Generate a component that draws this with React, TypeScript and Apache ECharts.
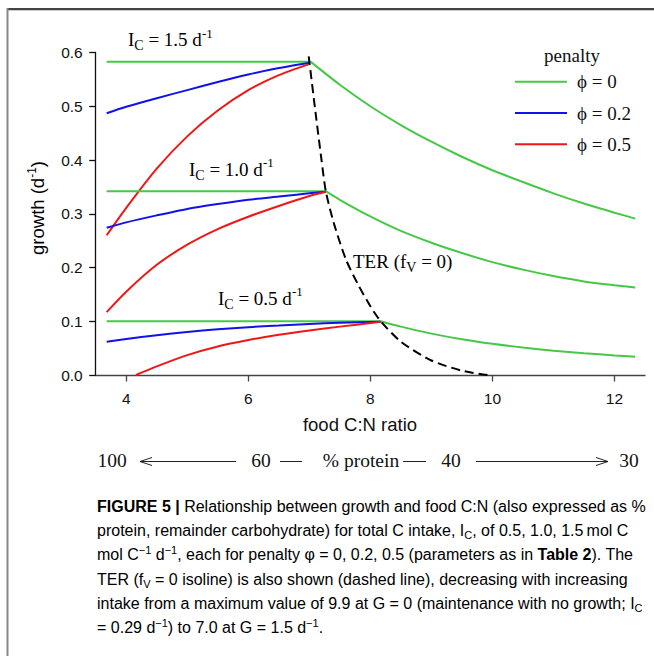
import React, { useEffect, useRef } from "react";
import * as echarts from "echarts";

// ---------- data ----------
const xTickValues = [4, 6, 8, 10, 12];
const yTickValues = [0.0, 0.1, 0.2, 0.3, 0.4, 0.5, 0.6];

const ic15Flat = [[3.68, 0.583], [7.02, 0.583]];
const ic15Decline = [[7.02, 0.583], [7.5, 0.54], [8.0, 0.5], [8.5, 0.465], [9.0, 0.434], [9.5, 0.406], [10.0, 0.381], [10.5, 0.359], [11.0, 0.338], [11.5, 0.319], [12.0, 0.302], [12.34, 0.291]];
const ic15Blue = [[3.68, 0.487], [4.0, 0.499], [4.5, 0.515], [5.0, 0.53], [5.5, 0.545], [6.0, 0.559], [6.5, 0.571], [7.0, 0.581]];
const ic15Red = [[3.68, 0.26], [4.0, 0.311], [4.5, 0.384], [5.0, 0.444], [5.5, 0.492], [6.0, 0.53], [6.5, 0.558], [6.99, 0.578]];

const ic10Flat = [[3.68, 0.342], [7.27, 0.342]];
const ic10Decline = [[7.27, 0.342], [7.5, 0.326], [8.0, 0.295], [8.5, 0.268], [9.0, 0.246], [9.5, 0.227], [10.0, 0.21], [10.5, 0.196], [11.0, 0.184], [11.5, 0.174], [12.0, 0.167], [12.34, 0.163]];
const ic10Blue = [[3.68, 0.274], [4.0, 0.284], [4.5, 0.297], [5.0, 0.309], [5.5, 0.318], [6.0, 0.326], [6.5, 0.332], [7.0, 0.338], [7.27, 0.341]];
const ic10Red = [[3.68, 0.117], [4.0, 0.155], [4.5, 0.205], [5.0, 0.2425], [5.5, 0.2715], [6.0, 0.2945], [6.5, 0.3145], [7.0, 0.333], [7.27, 0.341]];

const ic05Flat = [[3.68, 0.1], [8.17, 0.1]];
const ic05Decline = [[8.17, 0.1], [8.5, 0.09], [9.0, 0.077], [9.5, 0.0665], [10.0, 0.058], [10.5, 0.051], [11.0, 0.0452], [11.5, 0.0405], [12.0, 0.0365], [12.34, 0.034]];
const ic05Blue = [[3.68, 0.062], [4.0, 0.067], [4.5, 0.074], [5.0, 0.08], [5.5, 0.085], [6.0, 0.089], [6.5, 0.092], [7.0, 0.095], [7.5, 0.097], [8.17, 0.099]];
const ic05Red = [[4.16, 0.0], [4.5, 0.016], [5.0, 0.037], [5.5, 0.053], [6.0, 0.065], [6.5, 0.075], [7.0, 0.083], [7.5, 0.09], [8.17, 0.099]];

const terLine = [[6.99, 0.593], [7.1, 0.49], [7.2, 0.4], [7.27, 0.342], [7.4, 0.283], [7.6, 0.215], [7.8, 0.168], [8.0, 0.128], [8.17, 0.1], [8.5, 0.062], [9.0, 0.027], [9.5, 0.008], [9.92, 0.0]];

const legendTitle = "penalty";
const legendLabels = ["\u03D5 = 0", "\u03D5 = 0.2", "\u03D5 = 0.5"];
const proteinLabels = ["100", "60", "% protein", "40", "30"];

const GREEN = "#46c846";
const BLUE = "#1212e8";
const RED = "#f01616";

const SERIF = "Liberation Serif";
const SANS = "Liberation Sans";

const plotRich = {
  n: { fontFamily: SERIF, fontSize: 19, lineHeight: 26, verticalAlign: "middle", color: "#111" },
  sub: { fontFamily: SERIF, fontSize: 14, lineHeight: 16, verticalAlign: "bottom", color: "#111" },
  sup: { fontFamily: SERIF, fontSize: 13, lineHeight: 13, verticalAlign: "top", color: "#111" },
};

const capRich = {
  n: { fontFamily: SANS, fontSize: 16, lineHeight: 20, verticalAlign: "middle", color: "#333" },
  b: { fontFamily: SANS, fontSize: 16, fontWeight: "bold", lineHeight: 20, verticalAlign: "middle", color: "#333" },
  sup: { fontFamily: SANS, fontSize: 11, lineHeight: 10, verticalAlign: "top", color: "#333" },
  sub: { fontFamily: SANS, fontSize: 11, lineHeight: 14, verticalAlign: "bottom", color: "#333" },
};

const captionLines = [
  "{b|FIGURE 5 |}{n| Relationship between growth and food C:N (also expressed as %}",
  "{n|protein, remainder carbohydrate) for total C intake, I}{sub|C}{n|, of 0.5, 1.0, 1.5\u2009mol C}",
  "{n|mol C}{sup|\u22121}{n| d}{sup|\u22121}{n|, each for penalty \u03C6 = 0, 0.2, 0.5 (parameters as in }{b|Table 2}{n|). The}",
  "{n|TER (f}{sub|V}{n| = 0 isoline) is also shown (dashed line), decreasing with increasing}",
  "{n|intake from a maximum value of 9.9 at G = 0 (maintenance with no growth; I}{sub|C}",
  "{n|= 0.29 d}{sup|\u22121}{n|) to 7.0 at G = 1.5 d}{sup|\u22121}{n|.}",
];

function lineSeries(data: number[][], color: string, dashed = false, smooth = false) {
  return {
    type: "line",
    data,
    showSymbol: false,
    symbol: "none",
    smooth: smooth ? 0.25 : false,
    clip: true,
    lineStyle: { color: dashed ? "#000" : color, width: 2, type: dashed ? [9, 5] : "solid" },
    z: dashed ? 5 : 3,
  };
}

export default function App() {
  const ref = useRef<HTMLDivElement>(null);
  useEffect(() => {
    if (!ref.current) return;
    const chart = echarts.init(ref.current, undefined, { renderer: "svg" });

    const graphics: any[] = [
      { type: "rect", shape: { x: 7, y: 8, width: 647, height: 2 }, style: { fill: "#444" }, silent: true },
      { type: "rect", shape: { x: 7, y: 10, width: 647, height: 1 }, style: { fill: "#ccc" }, silent: true },
      { type: "rect", shape: { x: 6.5, y: 8, width: 2, height: 648 }, style: { fill: "#888" }, silent: true },
      // annotations
      { type: "text", x: 128, y: 39.5, style: { text: "{n|I}{sub|C}{n| = 1.5 d}{sup|-1}", rich: plotRich, textAlign: "left", textVerticalAlign: "middle" } },
      { type: "text", x: 189, y: 169, style: { text: "{n|I}{sub|C}{n| = 1.0 d}{sup|-1}", rich: plotRich, textAlign: "left", textVerticalAlign: "middle" } },
      { type: "text", x: 218, y: 298, style: { text: "{n|I}{sub|C}{n| = 0.5 d}{sup|-1}", rich: plotRich, textAlign: "left", textVerticalAlign: "middle" } },
      { type: "text", x: 353, y: 261, style: { text: "{n|TER (f}{sub|V}{n| = 0)}", rich: plotRich, textAlign: "left", textVerticalAlign: "middle" } },
      // legend
      { type: "text", x: 572, y: 55, style: { text: legendTitle, font: `19px "${SERIF}"`, fill: "#111", textAlign: "center", textVerticalAlign: "middle" } },
      // axis titles
      { type: "text", x: 37, y: 208, rotation: Math.PI / 2, style: { text: "{a|growth (d}{s|-1}{a|)}", rich: { a: { fontFamily: SANS, fontSize: 18.5, lineHeight: 22, verticalAlign: "middle", color: "#111" }, s: { fontFamily: SANS, fontSize: 12, lineHeight: 12, verticalAlign: "top", color: "#111" } }, textAlign: "center", textVerticalAlign: "middle" } },
      { type: "text", x: 360, y: 424, style: { text: "food C:N ratio", font: `18.5px "${SANS}"`, fill: "#111", textAlign: "center", textVerticalAlign: "middle" } },
    ];

    const legendColors = [GREEN, BLUE, RED];
    legendLabels.forEach((lab, i) => {
      const y = 81.7 + i * 31.3;
      graphics.push({ type: "line", shape: { x1: 515, y1: y, x2: 567, y2: y }, style: { stroke: legendColors[i], lineWidth: 2 } });
      graphics.push({ type: "text", x: 577, y: y, style: { text: lab, font: `19px "${SERIF}"`, fill: "#111", textAlign: "left", textVerticalAlign: "middle" } });
    });

    // protein scale row
    const py = 461.5;
    const pFont = `19.5px "${SERIF}"`;
    const pX = [112, 261, 361, 451, 629];
    proteinLabels.forEach((lab, i) => {
      graphics.push({ type: "text", x: pX[i], y: py - 1, style: { text: lab, font: pFont, fill: "#111", textAlign: "center", textVerticalAlign: "middle" } });
    });
    const segs = [[140, 236], [280, 302], [403, 426], [476, 608]];
    segs.forEach(([a, b]) => {
      graphics.push({ type: "line", shape: { x1: a, y1: py, x2: b, y2: py }, style: { stroke: "#222", lineWidth: 1 } });
    });
    graphics.push({ type: "polyline", shape: { points: [[152, py - 4], [140, py], [152, py + 4]] }, style: { stroke: "#222", lineWidth: 1, fill: "none" } });
    graphics.push({ type: "polyline", shape: { points: [[596, py - 4], [608, py], [596, py + 4]] }, style: { stroke: "#222", lineWidth: 1, fill: "none" } });

    // caption
    const capY = [506, 530, 554.5, 579, 603, 627];
    captionLines.forEach((t, i) => {
      graphics.push({ type: "text", x: 97, y: capY[i], style: { text: t, rich: capRich, textAlign: "left", textVerticalAlign: "middle" } });
    });

    const option: any = {
      animation: false,
      backgroundColor: "#fff",
      grid: { left: 95.7, top: 52.5, right: 9, bottom: 281, containLabel: false },
      xAxis: {
        type: "value",
        min: 3.5,
        max: 12.5,
        interval: 0.5,
        axisLine: { show: true, lineStyle: { color: "#444", width: 1.3 } },
        axisTick: { show: true, length: 6.5, lineStyle: { color: "#444", width: 1.3 }, customValues: xTickValues },
        axisLabel: { show: true, margin: 15, fontFamily: SANS, fontSize: 15.5, color: "#111", customValues: xTickValues },
        splitLine: { show: false },
      },
      yAxis: {
        type: "value",
        min: 0,
        max: 0.6,
        interval: 0.1,
        axisLine: { show: true, lineStyle: { color: "#111", width: 1.3 } },
        axisTick: { show: true, length: 6.5, lineStyle: { color: "#111", width: 1.3 }, customValues: yTickValues },
        axisLabel: { show: true, margin: 13, fontFamily: SANS, fontSize: 15.5, color: "#111", formatter: (v: number) => v.toFixed(1), customValues: yTickValues },
        splitLine: { show: false },
      },
      series: [
        lineSeries(ic15Flat, GREEN),
        lineSeries(ic15Decline, GREEN, false, true),
        lineSeries(ic15Blue, BLUE, false, true),
        lineSeries(ic15Red, RED, false, true),
        lineSeries(ic10Flat, GREEN),
        lineSeries(ic10Decline, GREEN, false, true),
        lineSeries(ic10Blue, BLUE, false, true),
        lineSeries(ic10Red, RED, false, true),
        lineSeries(ic05Flat, GREEN),
        lineSeries(ic05Decline, GREEN, false, true),
        lineSeries(ic05Blue, BLUE, false, true),
        lineSeries(ic05Red, RED, false, true),
        lineSeries(terLine, "#000", true, true),
      ],
      graphic: graphics,
    };
    chart.setOption(option);
    return () => chart.dispose();
  }, []);
  return <div ref={ref} style={{ position: "absolute", left: 0, top: 0, width: 654, height: 656 }} />;
}
